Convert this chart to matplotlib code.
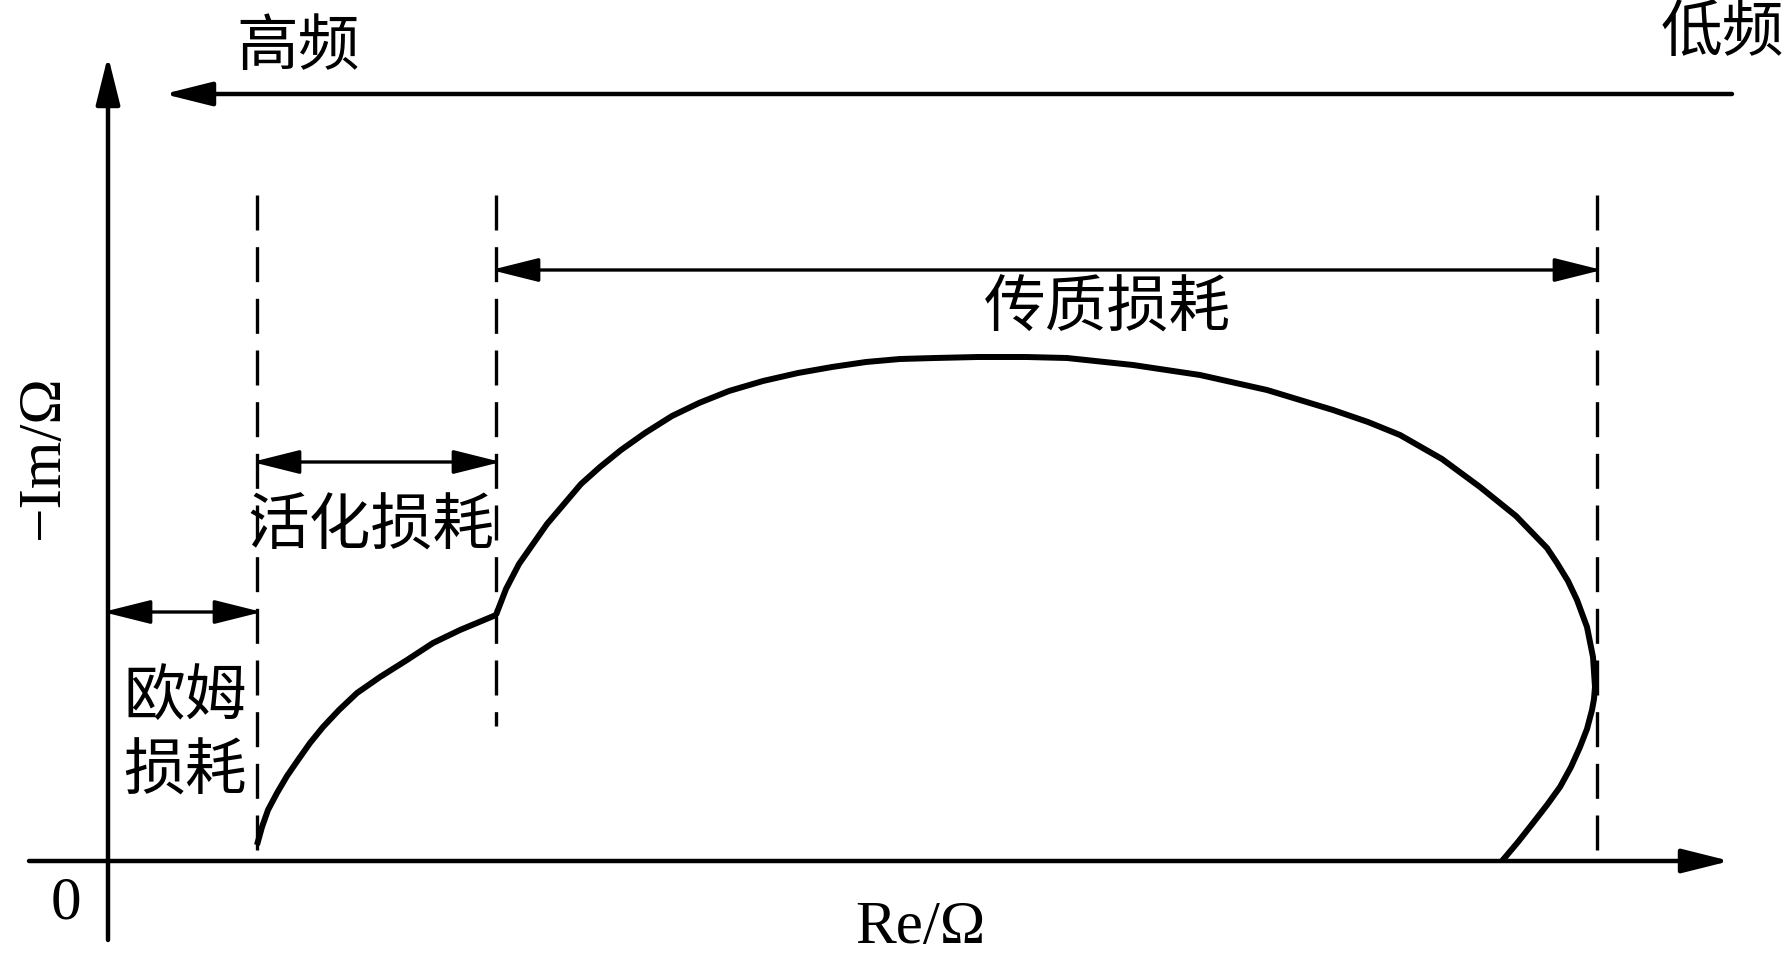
import matplotlib
matplotlib.use("Agg")
import matplotlib.pyplot as plt

# Nyquist sketch: Re (horizontal) and -Im (vertical), origin at the axis crossing
re_arc1 = [149, 154, 160, 169, 179, 190, 202, 215, 231, 249, 272, 299, 325,
           352, 388]
im_arc1 = [16, 34, 51, 68, 85, 101, 118, 134, 151, 168, 184, 201, 218, 231, 246]

re_arc2 = [388, 398, 411, 425, 439, 456, 473, 492, 513, 537, 564, 591, 621,
           655, 690, 724, 758, 792, 827, 870, 918, 959, 1025, 1092, 1159,
           1225, 1260, 1292, 1334, 1372, 1408, 1439, 1449, 1460, 1469, 1479,
           1485, 1487, 1486, 1484, 1479, 1472, 1463, 1452, 1439, 1425, 1410,
           1394]
im_arc2 = [246, 272, 297, 317, 337, 357, 377, 394, 411, 428, 445, 458, 470,
           480, 488, 494, 499, 502, 503, 504, 504, 503, 496, 486, 471, 451,
           439, 426, 402, 374, 345, 313, 298, 280, 261, 234, 204, 174, 162,
           151, 132, 114, 94, 74, 56, 38, 19, 0]

# region boundaries (dashed lines): ohmic | activation | mass transfer
bounds = [149, 388, 1489]
bound_bottom = [0, 135, 0]
bound_top = 666

zones = ["欧姆损耗", "活化损耗", "传质损耗"]
zone_arrow_im = [249, 399, 591]

cjk = ["Noto Sans CJK SC", "DejaVu Sans"]
serif = ["Liberation Serif", "DejaVu Serif"]

fig = plt.figure(figsize=(17.87, 9.68), dpi=100)
ax = fig.add_axes([0, 0, 1, 1])
ax.set_xlim(-108, 1679)
ax.set_ylim(-107, 861)
ax.axis("off")

head = "-|>,head_length=1.4,head_width=0.35"
head2 = "<|-|>,head_length=1.4,head_width=0.35"
pad = 5  # arrow tips touch their targets


def arrow(tip, tail, style, lw):
    ax.annotate("", xy=tip, xytext=tail,
                arrowprops=dict(arrowstyle=style, lw=lw, color="k",
                                mutation_scale=21, shrinkA=0, shrinkB=0))


# axes with arrows
arrow((1617 + pad, 0), (-79, 0), head, 3.2)
arrow((0, 805), (0, -79), head, 3.2)

# frequency direction arrow
arrow((61 - pad, 767), (1624, 767), head, 3.2)

# dashed boundaries
for b, lo in zip(bounds, bound_bottom):
    ax.plot([b, b], [bound_top, lo], color="k", lw=2.4,
            linestyle=(0, (10.5, 5.0)))

# double arrows for each loss zone
left_edges = [0] + bounds[:-1]
for l, r, y in zip(left_edges, bounds, zone_arrow_im):
    arrow((r + pad, y), (l - pad, y), head2, 2.4)

# impedance curve
ax.plot(re_arc1, im_arc1, color="k", lw=4.3, solid_joinstyle="round",
        solid_capstyle="butt")
ax.plot(re_arc2, im_arc2, color="k", lw=4.3, solid_joinstyle="round",
        solid_capstyle="butt")

# labels
fs = 44.5
ax.text(77, 164, zones[0][:2], family=cjk, fontsize=fs, ha="center", va="center")
ax.text(77, 89, zones[0][2:], family=cjk, fontsize=fs, ha="center", va="center")
ax.text(263, 334, zones[1], family=cjk, fontsize=fs, ha="center", va="center")
ax.text(999, 552, zones[2], family=cjk, fontsize=fs, ha="center", va="center")
ax.text(190, 814, "高频", family=cjk, fontsize=fs, ha="center", va="center")
ax.text(1614, 828, "低频", family=cjk, fontsize=fs, ha="center", va="center")

ax.text(-42, -43, "0", family=serif, fontsize=44, ha="center", va="center")
ax.text(812, -67, "Re/Ω", family=serif, fontsize=44, ha="center", va="center")
ax.text(-65, 404, "\u2212Im/Ω", family=serif, fontsize=44, ha="center",
        va="center", rotation=90)

fig.savefig("out.png", dpi=100)
